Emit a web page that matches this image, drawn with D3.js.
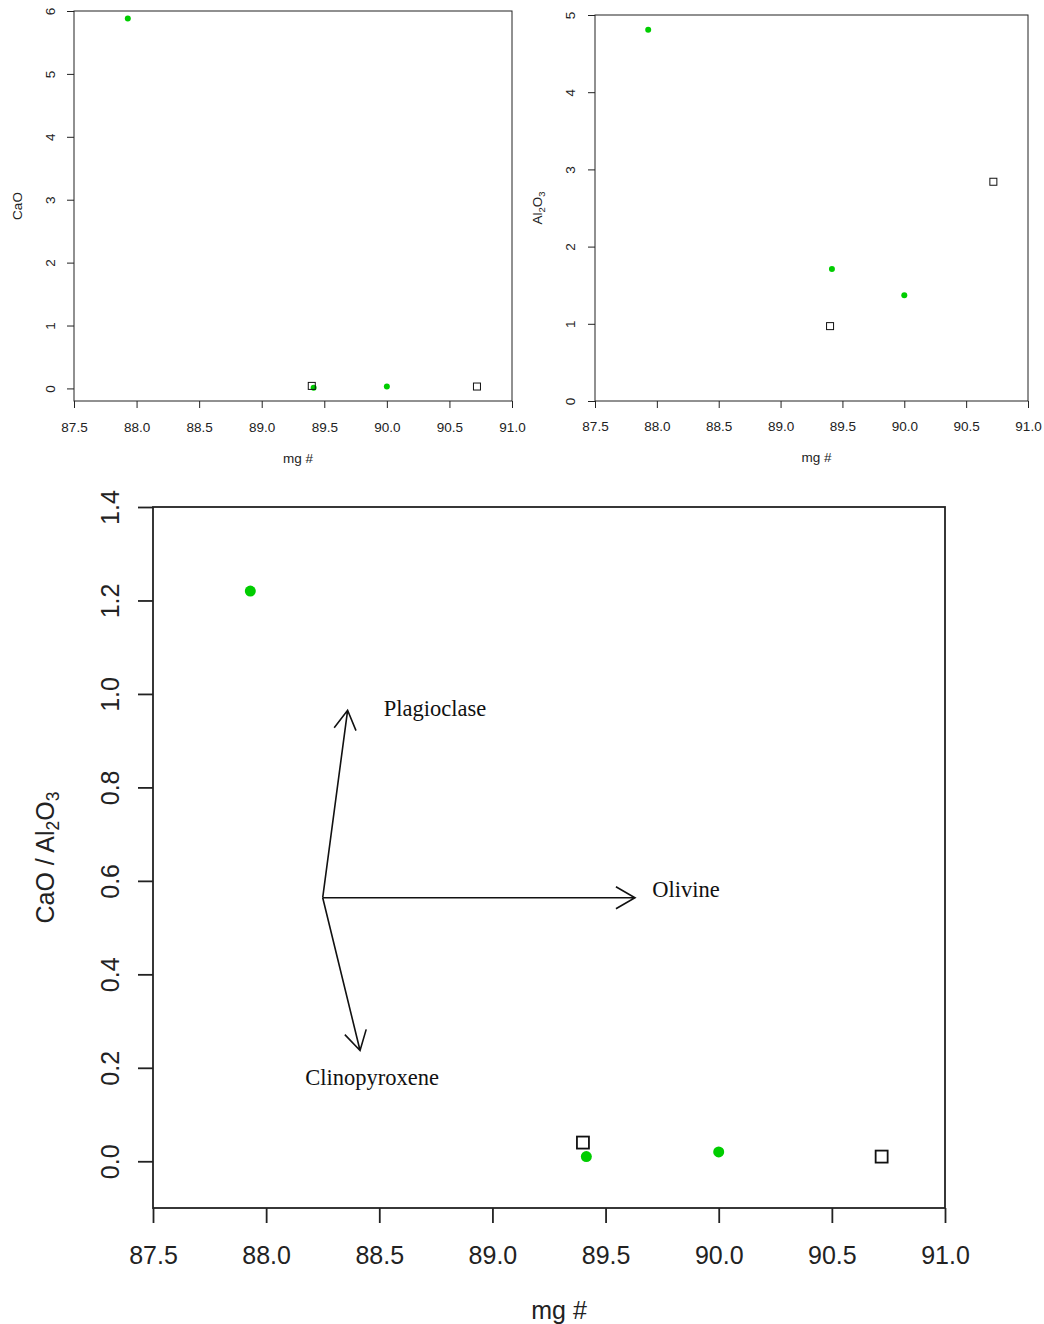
<!DOCTYPE html>
<html lang="en">
<head>
  <meta charset="utf-8">
  <title>CaO, Al2O3 vs mg #</title>
  <script src="https://d3js.org/d3.v7.min.js"></script>
  <style>
    * { margin: 0; padding: 0; }
    body { background: #fff; }
    svg text { font-family: "Liberation Sans", Arial, sans-serif; fill: #222; }
    .note { font-family: "Liberation Serif", "Times New Roman", serif !important; fill: #111; }
  </style>
</head>
<body>
<svg id="chart" width="1044" height="1324"></svg>
<script>
// ---- data ----
const mgTicks    = [87.5, 88.0, 88.5, 89.0, 89.5, 90.0, 90.5, 91.0];
const caoTicks   = [0, 1, 2, 3, 4, 5, 6];
const alTicks    = [0, 1, 2, 3, 4, 5];
const ratioTicks = [0.0, 0.2, 0.4, 0.6, 0.8, 1.0, 1.2, 1.4];

// filled green samples
const greenMg    = [87.93, 89.415, 90.00];
const greenCaO   = [5.88, 0.01, 0.03];
const greenAl2O3 = [4.81, 1.71, 1.37];
const greenRatio = [1.22, 0.01, 0.02];

// open square samples
const openMg     = [89.40, 90.72];
const openCaO    = [0.04, 0.03];
const openAl2O3  = [0.97, 2.84];
const openRatio  = [0.04, 0.01];

// trend vectors on the ratio plot (data units)
const vecOrigin  = [88.25, 0.564];
const vecNames   = ["Plagioclase", "Olivine", "Clinopyroxene"];
const vecTips    = [[88.36, 0.965], [89.63, 0.564], [88.415, 0.237]];
const vecLabels  = [[88.746, 0.968], [89.855, 0.582], [88.468, 0.18]];

const GREEN = "#00cd00";
const svg = d3.select("#chart");
svg.append("rect").attr("width", 1044).attr("height", 1324).attr("fill", "#fff");

function panel(o) {
  const x = d3.scaleLinear().domain([87.5, 91.0]).range([o.left, o.right]);
  const y = d3.scaleLinear().domain(o.yDomain).range([o.bottom, o.top]);
  const g = svg.append("g");

  const xa = g.append("g")
    .attr("transform", `translate(0,${o.bottom})`)
    .call(d3.axisBottom(x).tickValues(mgTicks).tickFormat(d3.format(".1f"))
      .tickSize(o.tick).tickPadding(o.xPad));
  const ya = g.append("g")
    .attr("transform", `translate(${o.left},0)`)
    .call(d3.axisLeft(y).tickValues(o.yTicks).tickFormat(o.yFmt).tickSize(o.tick));

  [xa, ya].forEach(a => {
    a.select(".domain").remove();
    a.selectAll("line").attr("stroke", "#222").attr("stroke-width", o.lw);
    a.selectAll("text").style("font-size", o.fs + "px").attr("fill", "#222");
  });
  xa.selectAll("text").attr("dy", null).attr("y", o.xPad)
    .attr("dominant-baseline", "central");
  ya.selectAll("text")
    .attr("x", null).attr("dy", null)
    .attr("text-anchor", "middle").attr("dominant-baseline", "central")
    .attr("transform", `translate(${-o.yPad},0) rotate(-90)`);

  g.append("rect")
    .attr("x", o.left).attr("y", o.top)
    .attr("width", o.right - o.left).attr("height", o.bottom - o.top)
    .attr("fill", "none").attr("stroke", "#222").attr("stroke-width", o.lw);

  // axis titles
  g.append("text")
    .attr("x", (o.left + o.right) / 2 + o.titleShift).attr("y", o.bottom + o.xTitle)
    .attr("text-anchor", "middle").attr("dominant-baseline", "central")
    .style("font-size", o.fs + "px").text("mg #");

  const yt = g.append("text")
    .attr("text-anchor", "middle").attr("dominant-baseline", "central")
    .attr("transform", `translate(${o.left - o.yTitle},${(o.top + o.bottom) / 2}) rotate(-90)`)
    .style("font-size", o.fs + "px");
  o.yLabel.forEach(([t, sub]) => {
    const s = yt.append("tspan").text(t);
    if (sub) s.style("font-size", (o.fs * 0.7) + "px").attr("dy", o.fs * 0.3);
    else if (yt.selectAll("tspan").size() > 1) s.attr("dy", -o.fs * 0.3);
  });

  // points
  g.selectAll(".grn").data(greenMg).join("circle")
    .attr("cx", d => x(d)).attr("cy", (d, i) => y(o.green[i]))
    .attr("r", o.r).attr("fill", GREEN);
  g.selectAll(".sq").data(openMg).join("rect")
    .attr("x", d => x(d) - o.sq / 2).attr("y", (d, i) => y(o.open[i]) - o.sq / 2)
    .attr("width", o.sq).attr("height", o.sq)
    .attr("fill", "none").attr("stroke", "#111").attr("stroke-width", o.sqw);

  return { x, y, g };
}

panel({
  left: 74, right: 512, top: 11, bottom: 401,
  yDomain: [-0.2, 6.0], yTicks: caoTicks, yFmt: d3.format("d"),
  tick: 7, xPad: 26, yPad: 24, fs: 13.5, lw: 1,
  xTitle: 57, yTitle: 57, titleShift: 5,
  yLabel: [["CaO"]], green: greenCaO, open: openCaO, r: 3, sq: 7, sqw: 1
});

panel({
  left: 595, right: 1028, top: 15, bottom: 401,
  yDomain: [0, 5], yTicks: alTicks, yFmt: d3.format("d"),
  tick: 7, xPad: 25, yPad: 25, fs: 13.5, lw: 1,
  xTitle: 56, yTitle: 58, titleShift: 5,
  yLabel: [["Al"], ["2", true], ["O"], ["3", true]],
  green: greenAl2O3, open: openAl2O3, r: 3, sq: 7, sqw: 1
});

const big = panel({
  left: 153, right: 945, top: 507, bottom: 1208,
  yDomain: [-0.1, 1.4], yTicks: ratioTicks, yFmt: d3.format(".1f"),
  tick: 15, xPad: 47, yPad: 43, fs: 25, lw: 1.8,
  xTitle: 102, yTitle: 108, titleShift: 10,
  yLabel: [["CaO / Al"], ["2", true], ["O"], ["3", true]],
  green: greenRatio, open: openRatio, r: 5.5, sq: 12, sqw: 1.8
});

// trend arrows
const bx = big.x, by = big.y;
const ox = bx(vecOrigin[0]), oy = by(vecOrigin[1]);
vecTips.forEach(([tx, ty]) => {
  const x1 = bx(tx), y1 = by(ty);
  const ang = Math.atan2(y1 - oy, x1 - ox);
  const L = 22, a = Math.PI / 6;
  big.g.append("path")
    .attr("d", `M${ox},${oy}L${x1},${y1}` +
      `M${x1 - L * Math.cos(ang - a)},${y1 - L * Math.sin(ang - a)}L${x1},${y1}` +
      `L${x1 - L * Math.cos(ang + a)},${y1 - L * Math.sin(ang + a)}`)
    .attr("fill", "none").attr("stroke", "#111").attr("stroke-width", 1.6);
});
big.g.selectAll(".note").data(vecNames).join("text")
  .attr("class", "note")
  .attr("x", (d, i) => bx(vecLabels[i][0])).attr("y", (d, i) => by(vecLabels[i][1]))
  .attr("text-anchor", "middle").attr("dominant-baseline", "central")
  .style("font-size", "22.5px").text(d => d);
</script>
</body>
</html>
